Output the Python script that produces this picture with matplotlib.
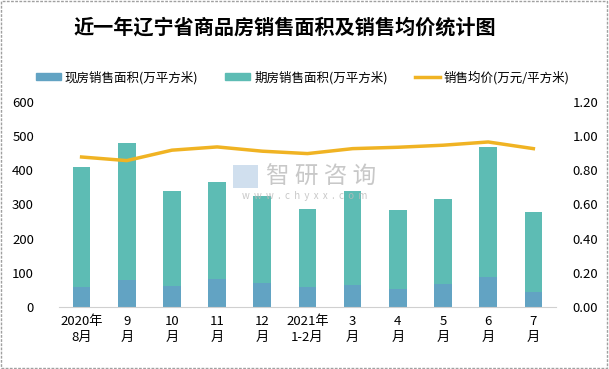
import matplotlib
matplotlib.use("Agg")
import matplotlib.pyplot as plt
from matplotlib.patches import Rectangle, Patch
from matplotlib.lines import Line2D

plt.rcParams['font.family'] = ['Noto Sans CJK SC', 'DejaVu Sans']

categories = ["2020年\n8月", "9\n月", "10\n月", "11\n月", "12\n月", "2021年\n1-2月",
              "3\n月", "4\n月", "5\n月", "6\n月", "7\n月"]
existing = [58, 79, 62, 82, 70, 58, 64, 53, 67, 88, 45]
total = [410, 481, 340, 366, 325, 287, 340, 284, 316, 468, 278]
presale = [t - e for t, e in zip(total, existing)]
price = [0.878, 0.857, 0.918, 0.937, 0.912, 0.898, 0.927, 0.935, 0.947, 0.966, 0.927]

c_exist = "#62A3C3"
c_pre = "#5DBCB4"
c_line = "#F0B323"

fig = plt.figure(figsize=(6.09, 3.69), dpi=100)
ax = fig.add_axes([0.0969, 0.168, 0.816, 0.5556])
x = list(range(len(categories)))
w = 0.39
ax.bar(x, existing, width=w, color=c_exist, zorder=2)
ax.bar(x, presale, width=w, bottom=existing, color=c_pre, zorder=2)
ax.set_xlim(-0.5, len(categories) - 0.5)
ax.set_ylim(0, 600)
ax.set_yticks(range(0, 601, 100))
ax.set_xticks(x)
ax.set_xticklabels(categories, fontsize=9, linespacing=1.3)
ax.tick_params(axis='both', length=0, labelsize=9.5, colors='black')
ax.tick_params(axis='y', pad=18)
ax.tick_params(axis='x', pad=6)
for s in ['top', 'right', 'left']:
    ax.spines[s].set_visible(False)
ax.spines['bottom'].set_color('#D0D0D0')

ax2 = ax.twinx()
ax2.plot(x, price, color=c_line, lw=2.5, zorder=3)
ax2.set_ylim(0, 1.2)
ax2.set_yticks([0, 0.2, 0.4, 0.6, 0.8, 1.0, 1.2])
ax2.set_yticklabels([f"{v:.2f}" for v in [0, 0.2, 0.4, 0.6, 0.8, 1.0, 1.2]])
ax2.tick_params(axis='y', length=0, labelsize=9.5, pad=12)
for s in ['top', 'right', 'left', 'bottom']:
    ax2.spines[s].set_visible(False)

fig.text(0.467, 0.927, "近一年辽宁省商品房销售面积及销售均价统计图", ha='center', va='center',
         fontsize=14.5, fontweight='bold')

handles = [Patch(color=c_exist), Patch(color=c_pre), Line2D([0], [0], color=c_line, lw=2.5)]
labels = ["现房销售面积(万平方米)", "期房销售面积(万平方米)", "销售均价(万元/平方米)"]
fig.legend(handles, labels, loc='center', bbox_to_anchor=(0.497, 0.79), ncol=3, frameon=False,
           fontsize=9, handlelength=2.0, handleheight=0.5, columnspacing=2.2, handletextpad=0.3)

fig.text(0.527, 0.520, "智 研 咨 询", ha='center', va='center', fontsize=17, color='#BBBBBB', alpha=0.8, zorder=5)
fig.text(0.50, 0.469, "w  w  w  .  c  h  y  x  x  .  c  o  m", ha='center', va='center', fontsize=7, color='#BBBBBB', alpha=0.8, zorder=5)
fig.patches.append(Rectangle((0.383, 0.490), 0.040, 0.062, transform=fig.transFigure,
                             facecolor='#C5D8EA', edgecolor='none', alpha=0.8, zorder=5))

fig.patches.append(Rectangle((0.002, 0.003), 0.995, 0.993, transform=fig.transFigure, fill=False,
                             edgecolor='#A0A0A0', lw=1, ls=(0, (2, 1))))
fig.savefig("out.png", dpi=100)
